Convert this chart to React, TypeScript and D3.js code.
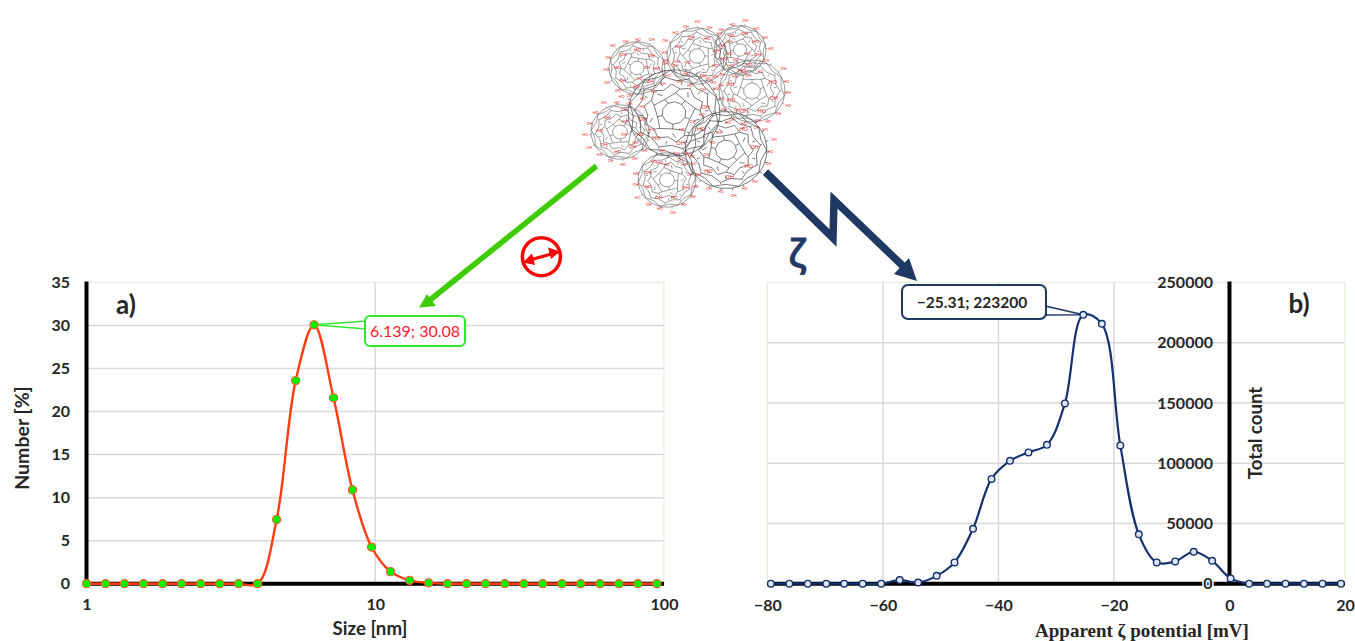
import React, { useEffect, useRef } from 'react';
import * as d3 from 'd3';

// panel a) size distribution
const sizeValues = [1, 1.164, 1.354, 1.576, 1.834, 2.134, 2.484, 2.891, 3.364, 3.915, 4.556, 5.302, 6.139, 7.17, 8.34, 9.71, 11.3, 13.15, 15.3, 17.8, 20.7, 24.1, 28.1, 32.7, 38.0, 44.3, 51.5, 60.0, 69.8, 81.2, 94.5];
const numberValues = [0, 0, 0, 0, 0, 0, 0, 0, 0, 0, 7.47, 23.6, 30.08, 21.6, 10.9, 4.26, 1.4, 0.39, 0.1, 0, 0, 0, 0, 0, 0, 0, 0, 0, 0, 0, 0];
const sizeTicks = [1, 10, 100];
const numberTicks = [0, 5, 10, 15, 20, 25, 30, 35];

// panel b) zeta potential
const zetaValues = [-79.4, -76.2, -73.0, -69.8, -66.7, -63.5, -60.3, -57.1, -53.9, -50.7, -47.6, -44.4, -41.2, -38.0, -34.8, -31.6, -28.5, -25.31, -22.1, -18.9, -15.7, -12.6, -9.4, -6.2, -3.0, 0.2, 3.4, 6.5, 9.7, 12.9, 16.1, 19.3];
const countValues = [0, 0, 0, 0, 0, 0, 0, 3000, 1000, 6500, 17700, 45600, 87000, 102000, 109000, 115300, 149600, 223200, 215700, 114800, 41000, 17700, 18500, 26500, 19000, 4400, 0, 0, 0, 0, 0, 0];
const zetaTicks = [-80, -60, -40, -20, 0, 20];
const countTicks = [50000, 100000, 150000, 200000, 250000];

// fullerenol cluster sketch: ball centres and radii
const ballX = [697, 740, 637, 674, 752, 620, 726, 667];
const ballY = [56, 50, 68, 113, 91, 132, 150, 180];
const ballR = [30, 26, 28, 46, 33, 29, 41, 29];

const SANS = 'Lato, "Open Sans", sans-serif';
const SERIF = '"Liberation Serif", serif';
const INK = '#262626';
const GRID = '#d9d9d9';
const FRAME = '#e2efda';
const NAVY = '#1f3864';

const App = () => {
  const svgRef = useRef<SVGSVGElement>(null);

  useEffect(() => {
    const svg = d3.select(svgRef.current);
    const top = 282.5;
    const bottom = 583.7;

    // Scales
    const xA = d3.scaleLog().domain([1, 100]).range([86.5, 664]);
    const yA = d3.scaleLinear().domain([0, 35]).range([bottom, top]);
    const xB = d3.scaleLinear().domain([-80, 20]).range([767.4, 1345]);
    const yB = d3.scaleLinear().domain([0, 250000]).range([bottom, top]);

    const hLine = (x1, x2, y, color, w) =>
      svg.append('line').attr('x1', x1).attr('x2', x2).attr('y1', y).attr('y2', y).attr('stroke', color).attr('stroke-width', w);
    const vLine = (x, y1, y2, color, w) =>
      svg.append('line').attr('x1', x).attr('x2', x).attr('y1', y1).attr('y2', y2).attr('stroke', color).attr('stroke-width', w);
    const label = (x, y, s, size, weight = 700, anchor = 'middle', family = SANS, color = INK) =>
      svg
        .append('text')
        .attr('x', x)
        .attr('y', y)
        .attr('dy', '0.35em')
        .attr('text-anchor', anchor)
        .attr('font-family', family)
        .attr('font-size', size)
        .attr('font-weight', weight)
        .attr('fill', color)
        .text(s);

    // Grid and frames
    numberTicks.slice(1, -1).forEach((t) => hLine(86, 664, yA(t), GRID, 1.5));
    vLine(xA(10), top, bottom, GRID, 1.5);
    hLine(86, 664, top, FRAME, 1.2);
    vLine(664, top, bottom, FRAME, 1.2);

    countTicks.slice(0, -1).forEach((t) => hLine(767, 1345, yB(t), GRID, 1.5));
    [-60, -40, -20].forEach((t) => vLine(xB(t), top, bottom, GRID, 1.5));
    hLine(767, 1345, top, FRAME, 1.2);
    vLine(767.4, top, bottom, FRAME, 1.2);
    vLine(1345, top, bottom, FRAME, 1.2);

    // Tick labels
    const styleAxis = (g) => {
      g.select('.domain').remove();
      g.selectAll('line').remove();
      g.selectAll('text')
        .attr('font-family', SANS)
        .attr('font-size', 16)
        .attr('font-weight', 700)
        .attr('fill', INK);
    };
    svg
      .append('g')
      .attr('transform', 'translate(73,0)')
      .call(d3.axisLeft(yA).tickValues(numberTicks).tickSize(0).tickFormat((d) => String(d)))
      .call(styleAxis);
    svg
      .append('g')
      .attr('transform', 'translate(0,596)')
      .call(d3.axisBottom(xA).tickValues(sizeTicks).tickSize(0).tickFormat((d) => String(d)))
      .call(styleAxis);
    svg
      .append('g')
      .attr('transform', 'translate(1216,0)')
      .call(d3.axisLeft(yB).tickValues(countTicks).tickSize(0).tickFormat((d) => String(d)))
      .call(styleAxis);
    svg
      .append('g')
      .attr('transform', 'translate(0,597)')
      .call(d3.axisBottom(xB).tickValues(zetaTicks).tickSize(0).tickFormat((d) => String(d).replace('-', '\u2212')))
      .call(styleAxis);

    // Axis lines
    vLine(86.5, top - 1, bottom + 2, '#000', 4);
    hLine(86, 664, bottom, '#000', 4);
    hLine(767, 1345, bottom, '#000', 4);
    vLine(xB(0), top - 1, bottom, '#000', 4);
    // the 0 of the count axis sits on the axis line with a white halo
    label(1208, bottom, '0', 16).attr('stroke', '#fff').attr('stroke-width', 3).attr('paint-order', 'stroke');

    // Titles
    label(370, 628, 'Size [nm]', 18.7);
    label(22, 438, 'Number [%]', 19.5).attr('transform', 'rotate(-90 22 438)');
    label(1142, 630, 'Apparent \u03b6 potential [mV]', 19, 700, 'middle', SERIF);
    label(1255, 433, 'Total count', 18.7).attr('transform', 'rotate(-90 1255 433)');
    label(126, 305, 'a)', 26);
    label(1299, 304, 'b)', 26);

    // Curves
    const lineA = d3
      .line<number>()
      .x((d, i) => xA(sizeValues[i]))
      .y((d) => yA(d))
      .curve(d3.curveCatmullRom.alpha(0.5));
    const lineB = d3
      .line<number>()
      .x((d, i) => xB(zetaValues[i]))
      .y((d) => yB(d))
      .curve(d3.curveCatmullRom.alpha(0.5));

    svg.append('path').attr('d', lineA(numberValues)).attr('fill', 'none').attr('stroke', '#ff3d12').attr('stroke-width', 2.4);
    svg.append('path').attr('d', lineB(countValues)).attr('fill', 'none').attr('stroke', '#14306e').attr('stroke-width', 2.2);

    // Callouts go under the markers
    svg
      .append('path')
      .attr('d', `M${xA(6.139)},${yA(30.08)}L366,321L366,329Z`)
      .attr('fill', '#fff')
      .attr('stroke', '#2ee82e')
      .attr('stroke-width', 1.5);
    svg
      .append('rect')
      .attr('x', 365)
      .attr('y', 316)
      .attr('width', 100)
      .attr('height', 30)
      .attr('rx', 5)
      .attr('fill', '#fff')
      .attr('stroke', '#2ee82e')
      .attr('stroke-width', 2);
    label(415, 331, '6.139; 30.08', 16, 400, 'middle', SANS, '#ff1a2e');

    svg
      .append('path')
      .attr('d', `M${xB(-25.31)},${yB(223200)}L1045,306L1045,315Z`)
      .attr('fill', '#fff')
      .attr('stroke', NAVY)
      .attr('stroke-width', 1.5);
    svg
      .append('rect')
      .attr('x', 902)
      .attr('y', 285)
      .attr('width', 144)
      .attr('height', 34)
      .attr('rx', 6)
      .attr('fill', '#fff')
      .attr('stroke', NAVY)
      .attr('stroke-width', 2);
    label(972, 303, '\u221225.31; 223200', 15.5, 700);

    // Markers
    svg
      .append('g')
      .selectAll('circle')
      .data(numberValues)
      .enter()
      .append('circle')
      .attr('cx', (d, i) => xA(sizeValues[i]))
      .attr('cy', (d) => yA(d))
      .attr('r', 4.1)
      .attr('fill', '#00f000')
      .attr('stroke', '#ff5a2a')
      .attr('stroke-width', 1.1);
    svg
      .append('g')
      .selectAll('circle')
      .data(countValues)
      .enter()
      .append('circle')
      .attr('cx', (d, i) => xB(zetaValues[i]))
      .attr('cy', (d) => yB(d))
      .attr('r', 3.3)
      .attr('fill', '#dfe6f2')
      .attr('stroke', '#14306e')
      .attr('stroke-width', 1.4);

    // Fullerenol cluster, each ball as a flattened cage of hexagon cells
    const mol = svg.append('g').attr('fill', 'none').attr('stroke', '#333').attr('stroke-linejoin', 'round');
    const closed = d3.line<[number, number]>().curve(d3.curveLinearClosed);
    const seg = d3.line<[number, number]>();
    const placed: number[][] = [];
    const addOH = (x, y, s, size, color) => {
      const w = size * 1.5;
      const h = size * 0.9;
      if (placed.some((p) => Math.abs(p[0] - x) < (p[2] + w) / 2 && Math.abs(p[1] - y) < (p[3] + h) / 2)) return;
      placed.push([x, y, w, h]);
      mol
        .append('text')
        .attr('x', x)
        .attr('y', y)
        .attr('text-anchor', 'middle')
        .attr('dy', '0.35em')
        .attr('stroke', 'none')
        .attr('fill', color)
        .attr('font-family', SANS)
        .attr('font-size', size)
        .text(s);
    };

    ballX.forEach((cx, b) => {
      const cy = ballY[b];
      const r = ballR[b];
      const rot = b * 0.55;
      const at = (rad, a): [number, number] => [cx + rad * Math.cos(a + rot), cy + rad * 0.94 * Math.sin(a + rot)];
      const g = mol.append('g').attr('stroke-width', r > 38 ? 0.8 : 0.6).attr('stroke-opacity', 0.8);
      const step = (2 * Math.PI) / 10;

      // centre cell
      g.append('path').attr('d', closed(d3.range(10).map((i) => at(r * 0.26, i * step))));

      // zigzag rings, every low vertex tied to the next ring out
      const radii = [0.42, 0.62, 0.8, 0.94];
      radii.forEach((rad, k) => {
        const n = k === 0 ? 10 : 20;
        const st = (2 * Math.PI) / n;
        const pts = d3.range(n).map((i) => at(r * (rad + (i % 2 ? 0.05 : -0.05)), i * st + (k % 2 ? st / 2 : 0)));
        g.append('path').attr('d', closed(pts));
      });
      d3.range(5).forEach((i) => {
        const a = i * 2 * step;
        g.append('path').attr('d', seg([at(r * 0.26, a), at(r * 0.37, a)]));
        g.append('path').attr('d', seg([at(r * 0.47, a + step), at(r * 0.57, a + step + 0.15)]));
        g.append('path').attr('d', seg([at(r * 0.47, a), at(r * 0.57, a - 0.15)]));
      });
      d3.range(10).forEach((i) => {
        const a = i * step + 0.16;
        g.append('path').attr('d', seg([at(r * 0.67, a), at(r * 0.75, a)]));
        g.append('path').attr('d', seg([at(r * 0.85, a + 0.15), at(r * 0.89, a + 0.15)]));
      });
      // second rim, gives the ball its double edge
      g.append('path').attr('d', closed(d3.range(24).map((i) => at(r * 1.0, (i * 2 * Math.PI) / 24))));

      // hydroxyl labels round the rim, a few bigger ones inside
      const count = Math.round(r * 0.55);
      d3.range(count).forEach((i) => {
        const a = 0.3 + (i * 2 * Math.PI) / count;
        const [lx, ly] = at(r * (i % 3 === 0 ? 1.2 : 1.09), a);
        g.append('path').attr('d', seg([at(r, a), at(r * 1.06, a)]));
        addOH(lx, ly, i % 2 ? 'OH' : 'HO', 3.8, '#f03030');
      });
      d3.range(8).forEach((i) => {
        const [lx, ly] = at(r * 0.7, 0.5 + (i * 2 * Math.PI) / 8);
        addOH(lx, ly, i % 2 ? 'OH' : 'HO', r > 30 ? 5.5 : 4.5, '#e81818');
      });
    });

    // Green arrow to panel a
    svg.append('line').attr('x1', 596.5).attr('y1', 166).attr('x2', 430).attr('y2', 300).attr('stroke', '#3ecc00').attr('stroke-width', 5.5);
    svg.append('polygon').attr('points', '419,307.5 427,294 436,306').attr('fill', '#3ecc00');

    // Red size symbol
    svg.append('circle').attr('cx', 541.4).attr('cy', 256.7).attr('r', 19).attr('fill', '#fff').attr('stroke', '#ff0000').attr('stroke-width', 3.5);
    svg.append('line').attr('x1', 530).attr('y1', 260).attr('x2', 553).attr('y2', 253.5).attr('stroke', '#ff0000').attr('stroke-width', 3.2);
    svg.append('polygon').attr('points', '523,262.5 532,253.5 535,265').attr('fill', '#ff0000');
    svg.append('polygon').attr('points', '560,251.5 548,247.5 551,259').attr('fill', '#ff0000');

    // Navy lightning arrow to panel b
    svg
      .append('polyline')
      .attr('points', '765.5,172 833,238 834,200 905,268')
      .attr('fill', 'none')
      .attr('stroke', NAVY)
      .attr('stroke-width', 7.5)
      .attr('stroke-linejoin', 'miter');
    svg.append('polygon').attr('points', '917,281 909,258 894,274').attr('fill', NAVY);
    label(797, 254, '\u03b6', 38, 500, 'middle', '"Noto Sans", sans-serif', NAVY).attr('stroke', NAVY).attr('stroke-width', 0.8);

    return () => {
      svg.selectAll('*').remove();
    };
  }, []);

  return <svg ref={svgRef} width={1355} height={641} style={{ position: 'absolute', left: 0, top: 0, background: '#fff' }}></svg>;
};

export default App;
